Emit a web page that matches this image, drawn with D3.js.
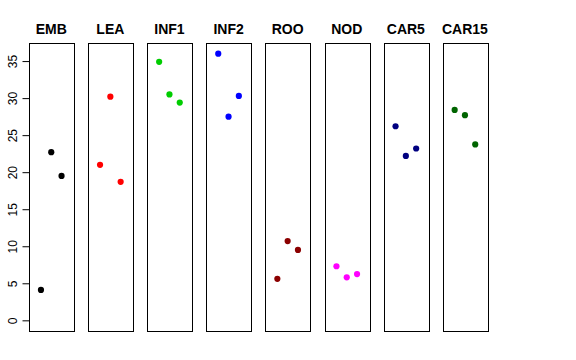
<!DOCTYPE html>
<html><head><meta charset="utf-8">
<script src="https://cdn.jsdelivr.net/npm/d3@7"></script>
<style>body{margin:0;background:#fff}svg{display:block}</style>
</head><body>
<script>
const categories = ["EMB","LEA","INF1","INF2","ROO","NOD","CAR5","CAR15"];
const colors = ["#000000","#FF0000","#00CD00","#0000FF","#8B0000","#FF00FF","#000080","#006400"];
const values = [
  [4.1, 22.7, 19.5],
  [21.0, 30.2, 18.7],
  [34.9, 30.5, 29.4],
  [36.0, 27.5, 30.3],
  [5.6, 10.7, 9.5],
  [7.3, 5.8, 6.25],
  [26.2, 22.2, 23.2],
  [28.4, 27.7, 23.75]
];
const yTicks = [0,5,10,15,20,25,30,35];

(function(){
const W = 576, H = 360;
const svg = d3.select("body").append("svg").attr("width", W).attr("height", H);

const plotTop = 43, plotBottom = 331;
const panelW = 44.5, step = 59.1, left0 = 29;
const yMax = d3.max(values.flat());
const ext = 0.04 * yMax;
const y = d3.scaleLinear().domain([0 - ext, yMax + ext]).range([plotBottom, plotTop]);

categories.forEach((cat, i) => {
  const x0 = left0 + i * step;
  const x = d3.scaleLinear().domain([-0.16, 4.16]).range([x0, x0 + panelW]);
  const g = svg.append("g");
  g.append("rect")
    .attr("x", Math.round(x0) + 0.5).attr("y", plotTop + 0.5)
    .attr("width", Math.round(panelW)).attr("height", plotBottom - plotTop)
    .attr("fill", "none").attr("stroke", "#000").attr("stroke-width", 1);
  g.selectAll("circle").data(values[i]).join("circle")
    .attr("cx", (d, j) => x(j + 1)).attr("cy", d => y(d))
    .attr("r", 3.1).attr("fill", colors[i]);
  g.append("text")
    .attr("x", x0 + panelW / 2).attr("y", 34)
    .attr("text-anchor", "middle")
    .attr("font-family", "Liberation Sans, Arial, sans-serif")
    .attr("font-weight", "bold").attr("font-size", 14)
    .text(cat);
});

const axis = d3.axisLeft(y).tickValues(yTicks).tickSize(7).tickPadding(4);
const ag = svg.append("g").attr("transform", `translate(${left0 + 0.5},0)`).call(axis);
ag.select(".domain").attr("d", `M0,${y(0)}V${y(35)}`).attr("stroke", "#000");
ag.selectAll(".tick line").attr("stroke", "#000");
ag.selectAll(".tick text")
  .attr("font-family", "Liberation Sans, Arial, sans-serif")
  .attr("font-size", 12).attr("fill", "#000")
  .attr("x", null).attr("dy", "0.35em").attr("y", 0)
  .attr("text-anchor", "middle")
  .attr("transform", "translate(-17,0) rotate(-90)");
})();
</script>
</body></html>
